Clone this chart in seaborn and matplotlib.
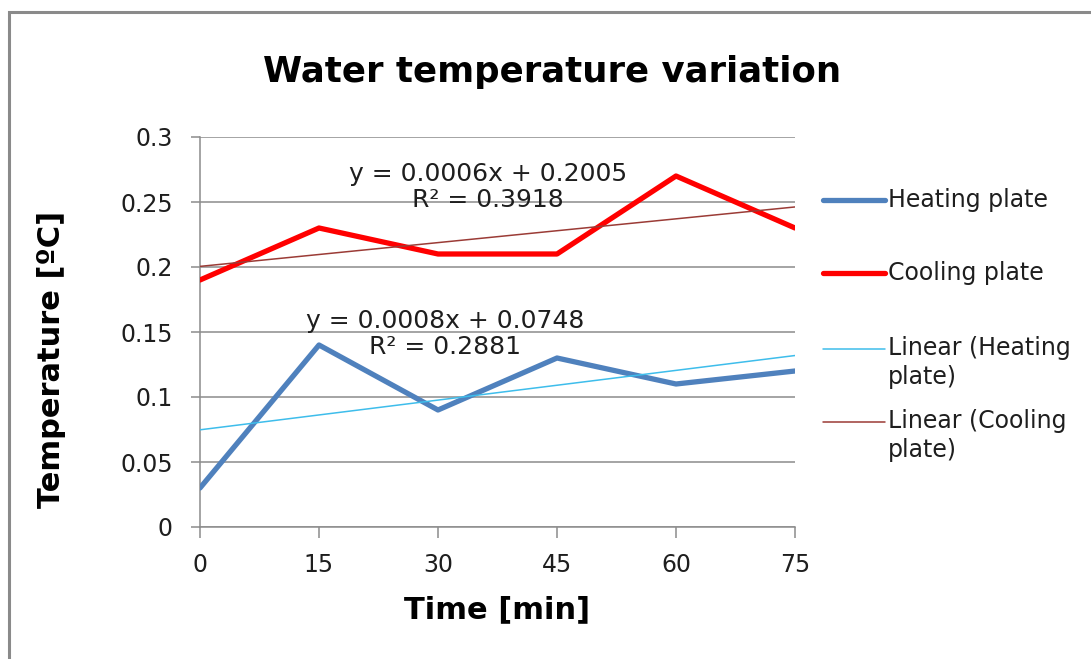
import matplotlib
matplotlib.use("Agg")
import matplotlib.pyplot as plt
import matplotlib.patches as mpatches
from matplotlib.lines import Line2D
import seaborn as sns
import numpy as np
import pandas as pd

# ---- data ----
time_min = [0, 15, 30, 45, 60, 75]
heating = [0.03, 0.14, 0.09, 0.13, 0.11, 0.12]
cooling = [0.19, 0.23, 0.21, 0.21, 0.27, 0.23]
y_ticks = [0, 0.05, 0.1, 0.15, 0.2, 0.25, 0.3]
y_tick_labels = ["0", "0.05", "0.1", "0.15", "0.2", "0.25", "0.3"]
eq_heating = "y = 0.0008x + 0.0748\nR² = 0.2881"
eq_cooling = "y = 0.0006x + 0.2005\nR² = 0.3918"
legend_labels = ["Heating plate", "Cooling plate", "Linear (Heating\nplate)", "Linear (Cooling\nplate)"]

df = pd.DataFrame({"time": time_min, "heating": heating, "cooling": cooling})

sns.set_theme(style="white")
plt.rcParams['font.family'] = ['DejaVu Sans']

W, H = 1091, 659
fig = plt.figure(figsize=(W / 100, H / 100), dpi=100)
ax = fig.add_axes([200 / W, 1 - 527 / H, 595 / W, 390 / H])

c_heat = "#4F81BD"
c_cool = "#FF0000"
c_lin_heat = "#3EBDEB"
c_lin_cool = "#9B3B36"
grid_c = "#8C8C8C"
txt_c = "#1E1E1E"

sns.lineplot(data=df, x="time", y="heating", ax=ax, color=c_heat, linewidth=3.8, zorder=3)
sns.lineplot(data=df, x="time", y="cooling", ax=ax, color=c_cool, linewidth=3.8, zorder=3)
sns.regplot(data=df, x="time", y="heating", ax=ax, scatter=False, ci=None, truncate=True,
            line_kws=dict(color=c_lin_heat, linewidth=1.1, zorder=4))
sns.regplot(data=df, x="time", y="cooling", ax=ax, scatter=False, ci=None, truncate=True,
            line_kws=dict(color=c_lin_cool, linewidth=1.1, zorder=4))

ax.set_xlim(0, 75)
ax.set_ylim(0, 0.3)
ax.set_xticks(time_min)
ax.set_xticklabels([str(t) for t in time_min])
ax.set_yticks(y_ticks)
ax.set_yticklabels(y_tick_labels)
ax.yaxis.grid(True, color=grid_c, linewidth=1.1)
ax.set_axisbelow(True)
for s in ["top", "right"]:
    ax.spines[s].set_visible(False)
for s in ["left", "bottom"]:
    ax.spines[s].set_color(grid_c)
    ax.spines[s].set_linewidth(1.1)
ax.tick_params(axis="y", left=True, length=6.5, width=1.1, color=grid_c, pad=13,
               labelsize=17, labelcolor=txt_c)
ax.tick_params(axis="x", bottom=True, length=8, width=1.1, color=grid_c, pad=11,
               labelsize=17, labelcolor=txt_c)
ax.set_xlabel("Time [min]", fontsize=22, fontweight="bold", color="black", va="center")
ax.set_ylabel("Temperature [ºC]", fontsize=22, fontweight="bold", color="black", va="center")
ax.xaxis.set_label_coords((497 - 200) / 595, (527 - 610) / 390)
ax.yaxis.set_label_coords((51 - 200) / 595, (527 - 359) / 390)

ax.text(36.3, 0.2615, eq_cooling, ha="center", va="center", fontsize=18, color=txt_c,
        linespacing=1.12, zorder=5)
ax.text(30.9, 0.1485, eq_heating, ha="center", va="center", fontsize=18, color=txt_c,
        linespacing=1.12, zorder=5)

fig.text(552 / W, 1 - 72 / H, "Water temperature variation", ha="center", va="center",
         fontsize=25.6, fontweight="bold", color="black")

# legend (manual placement)
leg_items = [
    (c_heat, 3.8, 200, legend_labels[0]),
    (c_cool, 3.8, 273, legend_labels[1]),
    (c_lin_heat, 1.1, 349, legend_labels[2]),
    (c_lin_cool, 1.1, 422, legend_labels[3]),
]
for col, lw, ypx, lab in leg_items:
    yf = 1 - ypx / H
    fig.add_artist(Line2D([823 / W, 885 / W], [yf, yf], transform=fig.transFigure,
                          color=col, linewidth=lw, solid_capstyle="round"))
    if "\n" in lab:
        fig.text(888 / W, 1 - (ypx - 13) / H, lab, ha="left", va="top",
                 fontsize=17, color=txt_c, linespacing=1.28)
    else:
        fig.text(888 / W, yf, lab, ha="left", va="center", fontsize=17, color=txt_c)

# chart border
fig.add_artist(mpatches.Rectangle((9 / W, -0.1), 1.2, 1 - 12 / H + 0.1,
                                  transform=fig.transFigure, fill=False,
                                  edgecolor="#8A8A8A", linewidth=2.2))

fig.savefig("out.png", dpi=100)
